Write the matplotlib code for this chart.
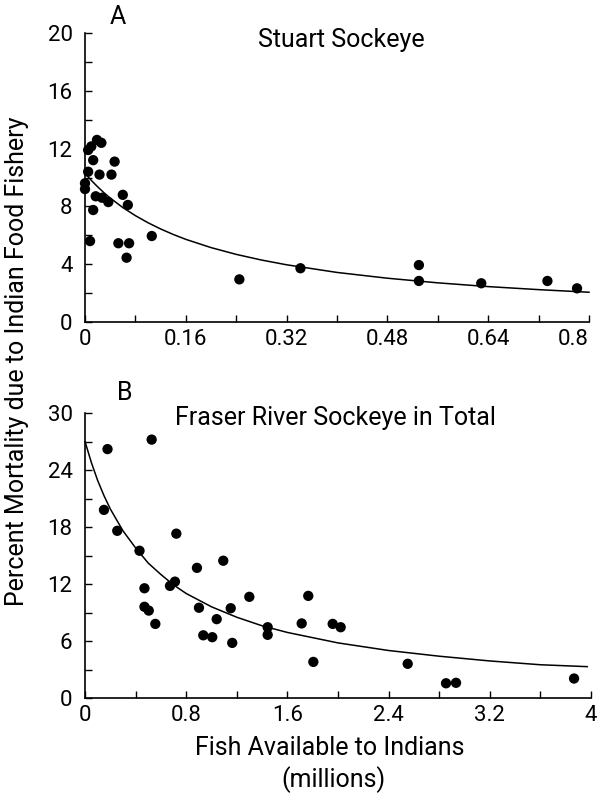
import matplotlib
matplotlib.use("Agg")
import matplotlib.pyplot as plt
from matplotlib.ticker import MultipleLocator

plt.rcParams['font.family'] = ['Roboto', 'DejaVu Sans']

# Panel A: Stuart Sockeye
a_x = [0.019, 0.026, 0.010, 0.005, 0.013, 0.047, 0.042, 0.005, 0.023, 0.000,
       0.000, 0.017, 0.027, 0.037, 0.060, 0.068, 0.013, 0.008, 0.053, 0.070,
       0.066, 0.106, 0.245, 0.342, 0.530, 0.530, 0.629, 0.734, 0.781]
a_y = [12.6, 12.4, 12.15, 11.9, 11.2, 11.1, 10.2, 10.4, 10.2, 9.6,
       9.2, 8.7, 8.6, 8.3, 8.8, 8.1, 7.75, 5.6, 5.45, 5.45,
       4.45, 5.95, 2.95, 3.72, 3.94, 2.84, 2.68, 2.84, 2.33]
# fitted curve A
a_cx = [0.0, 0.01, 0.02, 0.03, 0.04, 0.06, 0.08, 0.10, 0.12, 0.14, 0.16, 0.20,
        0.24, 0.28, 0.32, 0.40, 0.48, 0.56, 0.64, 0.72, 0.80]
a_cy = [10.3, 9.8, 9.36, 8.95, 8.58, 7.92, 7.36, 6.87, 6.44, 6.06, 5.72, 5.15,
        4.68, 4.29, 3.96, 3.43, 3.03, 2.71, 2.45, 2.24, 2.06]

# Panel B: Fraser River Sockeye in Total
b_x = [0.178, 0.527, 0.150, 0.255, 0.431, 0.722, 0.470, 0.470, 0.504, 0.556,
       0.672, 0.711, 0.885, 1.093, 0.901, 0.935, 1.006, 1.041, 1.152, 1.164,
       1.299, 1.444, 1.444, 1.713, 1.765, 1.805, 1.958, 2.021, 2.551, 2.854,
       2.933, 3.866]
b_y = [26.2, 27.2, 19.8, 17.6, 15.5, 17.3, 11.55, 9.6, 9.2, 7.8,
       11.8, 12.25, 13.7, 14.45, 9.5, 6.6, 6.4, 8.3, 9.45, 5.8,
       10.65, 7.45, 6.65, 7.85, 10.75, 3.8, 7.8, 7.45, 3.6, 1.55,
       1.6, 2.05]
b_cx = [0.0, 0.05, 0.1, 0.15, 0.2, 0.3, 0.4, 0.5, 0.6, 0.7, 0.8, 1.0, 1.2, 1.4,
        1.6, 2.0, 2.4, 2.8, 3.2, 3.6, 3.97]
b_cy = [27.0, 24.8, 22.9, 21.3, 19.9, 17.6, 15.8, 14.2, 13.0, 11.9, 11.0, 9.6,
        8.5, 7.6, 6.9, 5.8, 5.0, 4.4, 3.9, 3.5, 3.3]

a_xticks = [0, 0.16, 0.32, 0.48, 0.64, 0.8]
a_xlabels = ['0', '0.16', '0.32', '0.48', '0.64', '0.8']
a_yticks = [0, 4, 8, 12, 16, 20]
b_xticks = [0, 0.8, 1.6, 2.4, 3.2, 4]
b_xlabels = ['0', '0.8', '1.6', '2.4', '3.2', '4']
b_yticks = [0, 6, 12, 18, 24, 30]

W, H = 601, 794
fig = plt.figure(figsize=(W / 100, H / 100), dpi=100)

def px_axes(left, right, top, bottom):
    return fig.add_axes([left / W, 1 - bottom / H, (right - left) / W, (bottom - top) / H])

axA = px_axes(85, 589, 33, 322)
axB = px_axes(85, 591, 413, 698)

FS = 16     # tick labels
TFS = 18    # other texts

def style(ax, xmax, ymax, xmin, ymin, xt, xl, yt):
    ax.set_xlim(0, xmax)
    ax.set_ylim(0, ymax)
    for s in ['top', 'right']:
        ax.spines[s].set_visible(False)
    for s in ['left', 'bottom']:
        ax.spines[s].set_linewidth(1.2)
    ax.set_xticks(xt)
    ax.set_xticklabels(xl)
    ax.set_yticks(yt)
    ax.xaxis.set_minor_locator(MultipleLocator(xmin))
    ax.yaxis.set_minor_locator(MultipleLocator(ymin))
    ax.tick_params(which='both', direction='in', length=5, width=1.0, labelsize=FS)
    ax.tick_params(axis='x', which='major', pad=5)
    ax.tick_params(axis='y', which='major', pad=9)

style(axA, 0.8, 20, 0.08, 2, a_xticks, a_xlabels, a_yticks)
style(axB, 4, 30, 0.4, 3, b_xticks, b_xlabels, b_yticks)
# keep the last label of panel A inside the figure
axA.get_xticklabels()[-1].set_horizontalalignment('right')
axA.get_xticklabels()[-1].set_x(0.8)

for ax, x, y, cx, cy in [(axA, a_x, a_y, a_cx, a_cy), (axB, b_x, b_y, b_cx, b_cy)]:
    ax.plot(cx, cy, color='black', lw=1.1, clip_on=False, zorder=2)
    ax.scatter(x, y, s=55, color='black', edgecolors='none', clip_on=False, zorder=3)

def ftext(x, y, s, **kw):
    fig.text(x / W, 1 - y / H, s, **kw)

ftext(118, 17, 'A', fontsize=TFS, ha='center', va='center')
ftext(258, 40, 'Stuart Sockeye', fontsize=TFS, ha='left', va='center')
ftext(125, 393, 'B', fontsize=TFS, ha='center', va='center')
ftext(175, 418, 'Fraser River Sockeye in Total', fontsize=TFS, ha='left', va='center')
ftext(330, 748, 'Fish Available to Indians', fontsize=TFS, ha='center', va='center')
ftext(333, 780, '(millions)', fontsize=TFS, ha='center', va='center')
ftext(17, 361, 'Percent Mortality due to Indian Food Fishery', fontsize=TFS,
      ha='center', va='center', rotation=90)

fig.savefig('out.png', dpi=100)
